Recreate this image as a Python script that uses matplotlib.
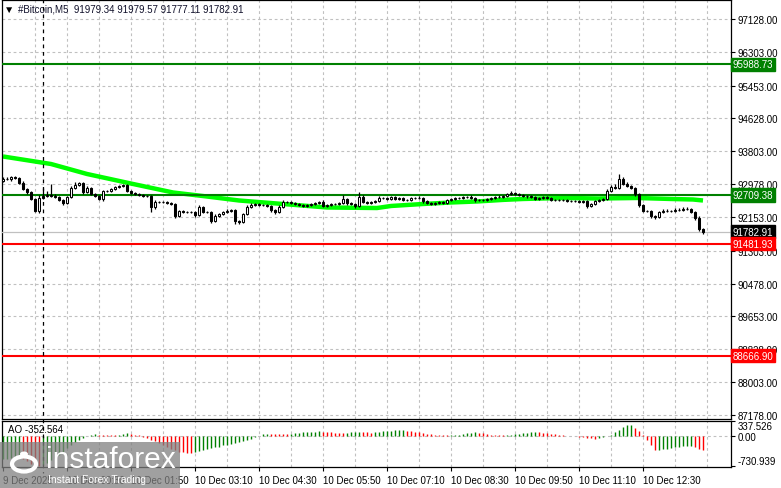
import matplotlib
matplotlib.use('Agg')
import matplotlib.pyplot as plt
from matplotlib.lines import Line2D
from matplotlib.patches import Rectangle, Circle

plt.rcParams['font.family'] = ['Liberation Sans', 'DejaVu Sans']

# ---- data (M5 bars, 9 Dec 23:10 .. 10 Dec 13:45) ----
first_open = 93057
closes = [
    93107, 93107, 93157, 93132, 93006, 92856, 92781, 92605, 92303, 92630, 92680, 92705, 92680, 92655, 92580, 92504,
    92655, 92881, 92956, 93006, 92781, 92881, 92730, 92680, 92605, 92806, 92806, 92856, 92906, 92931, 92956, 92806,
    92755, 92730, 92705, 92680, 92680, 92404, 92529, 92529, 92529, 92504, 92479, 92178, 92303, 92278, 92278, 92278,
    92203, 92404, 92278, 92278, 92052, 92178, 92228, 92278, 92303, 92328, 92052, 92027, 92228, 92404, 92454, 92479,
    92454, 92454, 92429, 92328, 92278, 92404, 92529, 92529, 92504, 92479, 92454, 92429, 92454, 92479, 92504, 92529,
    92429, 92454, 92479, 92479, 92504, 92605, 92504, 92479, 92429, 92655, 92529, 92504, 92529, 92554, 92630, 92630,
    92605, 92655, 92605, 92630, 92580, 92580, 92630, 92630, 92630, 92554, 92504, 92479, 92504, 92529, 92504, 92580,
    92605, 92630, 92630, 92655, 92655, 92630, 92580, 92580, 92580, 92605, 92630, 92655, 92655, 92680, 92730, 92755,
    92730, 92705, 92680, 92680, 92655, 92605, 92630, 92655, 92630, 92580, 92580, 92580, 92580, 92554, 92554, 92554,
    92529, 92554, 92429, 92479, 92554, 92580, 92605, 92806, 92906, 92881, 93107, 92981, 92931, 92881, 92730, 92454,
    92303, 92303, 92178, 92152, 92278, 92303, 92303, 92303, 92328, 92328, 92353, 92353, 92278, 92127, 91851, 91782.91,
]
# upper / lower shadow length beyond the body
wick_hi = [
    50, 40, 30, 25, 30, 40, 30, 25, 30, 75, 200, 100, 275, 40, 30, 25,
    30, 40, 75, 25, 30, 40, 30, 25, 25, 30, 25, 30, 25, 25, 30, 25,
    30, 25, 30, 25, 30, 25, 50, 30, 30, 25, 25, 30, 25, 30, 25, 30,
    25, 50, 30, 25, 30, 40, 25, 30, 40, 25, 30, 25, 30, 40, 50, 25,
    30, 25, 30, 25, 30, 40, 50, 30, 25, 30, 25, 30, 25, 30, 25, 30,
    50, 25, 30, 25, 30, 100, 25, 30, 25, 125, 40, 30, 25, 30, 50, 25,
    30, 25, 30, 25, 30, 25, 30, 25, 50, 25, 30, 25, 30, 25, 30, 25,
    30, 25, 30, 25, 30, 50, 25, 30, 25, 30, 25, 30, 50, 25, 30, 40,
    30, 25, 30, 25, 30, 25, 30, 25, 30, 25, 30, 25, 30, 25, 30, 25,
    30, 25, 30, 25, 30, 25, 30, 50, 40, 75, 125, 40, 50, 30, 25, 30,
    25, 30, 25, 30, 25, 50, 40, 30, 40, 50, 40, 50, 30, 25, 40, 25,
]
wick_lo = [
    30, 25, 40, 30, 25, 30, 40, 30, 30, 50, 30, 25, 30, 25, 30, 40,
    25, 30, 25, 30, 40, 25, 30, 25, 30, 40, 25, 30, 25, 30, 25, 30,
    25, 30, 25, 30, 25, 125, 40, 25, 30, 25, 30, 50, 25, 30, 25, 30,
    40, 25, 30, 25, 50, 30, 25, 30, 25, 30, 75, 50, 30, 25, 30, 25,
    30, 25, 30, 40, 50, 25, 30, 25, 30, 25, 30, 25, 30, 25, 30, 25,
    30, 25, 30, 25, 30, 25, 40, 30, 50, 25, 30, 25, 30, 25, 30, 25,
    30, 25, 30, 25, 30, 25, 30, 25, 30, 40, 25, 30, 25, 30, 25, 30,
    25, 30, 25, 30, 25, 30, 40, 25, 30, 25, 30, 25, 30, 25, 30, 25,
    30, 25, 30, 40, 25, 30, 25, 30, 25, 30, 25, 30, 25, 30, 25, 30,
    25, 30, 50, 30, 25, 30, 25, 30, 25, 30, 25, 30, 25, 30, 40, 50,
    30, 25, 40, 50, 30, 25, 30, 25, 30, 25, 30, 25, 30, 40, 40, 50,
]

# moving average (lime line), read at a set of bar positions
ma_idx = [0, 12, 21, 32.5, 42.5, 51, 59, 70, 81, 93.5, 97, 105, 112, 118.5, 125, 130, 140, 149, 158.5, 167, 172.5, 175]
ma_vals = [93673, 93484, 93233, 92982, 92768, 92667, 92567, 92479, 92391, 92378, 92429, 92479, 92517, 92542,
           92582, 92605, 92630, 92617, 92630, 92605, 92592, 92567]

# Awesome Oscillator
ao = [
    -560, -545, -530, -515, -500, -550, -610, -665, -710, -731, -700, -650, -590, -520, -450, -380,
    -300, -230, -160, -110, -60, -20, 15, 30, 25, 20, 15, 10, 8, 20, 35, 50,
    40, 25, 5, -30, -60, -100, -140, -180, -220, -270, -310, -350, -380, -400, -415, -420,
    -400, -370, -345, -320, -300, -280, -260, -235, -215, -195, -175, -155, -135, -110, -80, -45,
    -10, 30, 45, 42, 38, 35, 30, 28, 40, 55, 65, 75, 85, 90, 95, 100,
    92, 85, 78, 72, 68, 65, 72, 80, 85, 92, 85, 78, 70, 78, 90, 100,
    108, 115, 120, 125, 128, 115, 102, 90, 75, 60, 45, 30, 15, 8, 4, 3,
    5, 10, 25, 40, 55, 70, 85, 70, 55, 40, 25, 12, 5, 3, 8, 18,
    32, 48, 60, 72, 82, 88, 80, 68, 55, 42, 28, 15, 5, -5, -12, -20,
    -30, -40, -50, -60, -70, -65, -45, -15, 25, 80, 140, 200, 245, 260, 190, 100,
    20, -100, -230, -345, -340, -325, -310, -295, -280, -265, -255, -245, -240, -280, -320, -352.564,
]

green_levels = [95988.73, 92709.38]
red_levels = [91481.93, 88666.90]
last_price = 91782.91
price_ticks = [97128, 96303, 95453, 94628, 93803, 92978, 92153, 91303, 90478, 89653, 88828, 88003, 87178]
ao_ticks = [337.526, 0.0, -730.939]
time_idx = [0, 16, 32, 48, 64, 80, 96, 112, 128, 144, 160]
time_labels = ['9 Dec 2025', '10 Dec 00:30', '10 Dec 01:50', '10 Dec 03:10', '10 Dec 04:30',
               '10 Dec 05:50', '10 Dec 07:10', '10 Dec 08:30', '10 Dec 09:50', '10 Dec 11:10',
               '10 Dec 12:30']

# ---- layout in pixels ----
W, H = 781, 489
def fx(x):
    return x / W
def fy(y):
    return 1 - y / H

fig = plt.figure(figsize=(W / 100, H / 100), dpi=100)
fig.patch.set_facecolor('white')
ax = fig.add_axes([fx(2), fy(420), (731 - 2) / W, (420 - 1) / H])
ao_ax = fig.add_axes([fx(2), fy(468), (731 - 2) / W, (468 - 422) / H])

n = len(closes)
idx = list(range(n))
opens = [first_open] + closes[:-1]
xlim = (-0.25, 182)
grid_kw = dict(color='#c0c0c0', lw=0.8, linestyle=(0, (2.5, 2.5)), zorder=0)

# ---- main price panel ----
for p in price_ticks:
    ax.axhline(p, **grid_kw)
for i in range(8, 182, 8):
    ax.axvline(i, **grid_kw)
    ao_ax.axvline(i, **grid_kw)

ax.plot(ma_idx, ma_vals, color='#00ff00', lw=3.2, solid_capstyle='butt', zorder=2)
for lv in green_levels:
    ax.axhline(lv, color='#008000', lw=1.5, zorder=3)
for lv in red_levels:
    ax.axhline(lv, color='#ff0000', lw=1.5, zorder=3)
ax.axhline(last_price, color='#c0c0c0', lw=0.9, zorder=3)

highs = [max(o, c) + w for o, c, w in zip(opens, closes, wick_hi)]
lows = [min(o, c) - w for o, c, w in zip(opens, closes, wick_lo)]
ax.vlines(idx, lows, highs, color='black', lw=0.9, zorder=4)
bottoms = [min(o, c) for o, c in zip(opens, closes)]
heights = [max(abs(c - o), 8) for o, c in zip(opens, closes)]
body_col = ['white' if c >= o else 'black' for o, c in zip(opens, closes)]
ax.bar(idx, heights, bottom=bottoms, width=0.58, color=body_col, edgecolor='black', lw=0.75, zorder=5)

ax.set_xlim(xlim)
ax.set_ylim(87076, 97605)
ax.set_xticks([])
ax.yaxis.tick_right()
ax.set_yticks(price_ticks)
ax.set_yticklabels([f'{p:.2f}' for p in price_ticks])
ax.tick_params(axis='y', length=3, width=0.8, pad=2, labelsize=7, colors='black')
for s in ax.spines.values():
    s.set_linewidth(0.9)

for lv, c in [(green_levels[0], '#008000'), (green_levels[1], '#008000'),
              (last_price, 'black'), (red_levels[0], '#ff0000'), (red_levels[1], '#ff0000')]:
    ax.annotate(f'{lv:.2f}', xy=(1, lv), xycoords=ax.get_yaxis_transform(),
                xytext=(1.2, 0), textcoords='offset points', ha='left', va='center',
                fontsize=7, color='white', annotation_clip=False, zorder=10,
                bbox=dict(boxstyle='square,pad=0.18', fc=c, ec=c))

fig.text(fx(4), fy(10), '▼', fontsize=7.5, color='black', va='center')
fig.text(fx(18), fy(10), '#Bitcoin,M5  91979.34 91979.57 91777.11 91782.91',
         fontsize=7, color='#10102a', va='center')

# ---- AO panel ----
ao_col = ['#008000' if (i > 0 and ao[i] > ao[i - 1]) else '#ff0000' for i in idx]
ao_col[0] = '#008000'
ao_ax.axhline(0, **grid_kw)
ao_ax.vlines(idx, 0, ao, colors=ao_col, lw=1.0, zorder=3)
ao_ax.set_xlim(xlim)
ao_ax.set_ylim(-745, 345)
ao_ax.yaxis.tick_right()
ao_ax.set_yticks(ao_ticks)
ao_ax.set_yticklabels(['337.526', '0.00', '-730.939'])
ao_ax.tick_params(axis='y', length=3, width=0.8, pad=2, labelsize=7)
ylabs = ao_ax.get_yticklabels()
ylabs[0].set_va('top')
ylabs[2].set_va('bottom')
ao_ax.set_xticks(time_idx)
ao_ax.set_xticklabels(time_labels)
ao_ax.tick_params(axis='x', length=3, width=0.8, pad=3, labelsize=7)
for t in ao_ax.get_xticklabels():
    t.set_ha('left')
for s in ao_ax.spines.values():
    s.set_linewidth(0.9)
ao_ax.text(6 / 729, 0.82, 'AO -352.564', transform=ao_ax.transAxes,
           fontsize=7, color='black', va='center')

# crosshair
fig.add_artist(Line2D([fx(43), fx(43)], [fy(0), fy(474)], color='black', lw=0.9,
                      linestyle=(0, (3, 3)), zorder=6))

# watermark
fig.add_artist(Rectangle((fx(0), fy(489)), fx(180), (489 - 443) / H, transform=fig.transFigure,
                         fc='#808080', ec='none', alpha=0.75, zorder=20))
fig.add_artist(Circle((fx(24), fy(465)), 12 / W, transform=fig.transFigure, fc='none',
                      ec='white', lw=3, zorder=21))
fig.add_artist(Circle((fx(24), fy(455)), 4 / W, transform=fig.transFigure, fc='white',
                      ec='none', zorder=21))
fig.text(fx(46), fy(468), 'instaforex', fontsize=21.5, color='white', va='baseline', zorder=22)
fig.text(fx(48), fy(480), 'Instant Forex Trading', fontsize=7.5, color='white', va='center', zorder=22)

fig.savefig('out.png', dpi=100)
